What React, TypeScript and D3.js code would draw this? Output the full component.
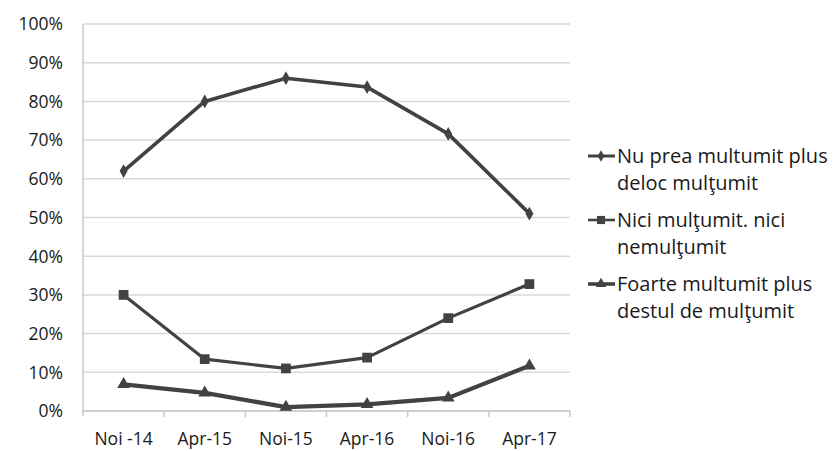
import { scaleBand, scaleLinear, line, symbol, symbolDiamond, symbolSquare, symbolTriangle } from "d3";

const categories = ["Noi -14", "Apr-15", "Noi-15", "Apr-16", "Noi-16", "Apr-17"];
const nemultumit = [62, 80, 86, 83.7, 71.6, 51];
const neutru = [30, 13.4, 11, 13.8, 24, 32.8];
const multumit = [6.9, 4.7, 1, 1.7, 3.4, 11.7];
const yTicks = [0, 10, 20, 30, 40, 50, 60, 70, 80, 90, 100];

const legendLabels = [
  ["Nu prea multumit plus", "deloc mulţumit"],
  ["Nici mulţumit. nici", "nemulţumit"],
  ["Foarte multumit plus", "destul de mulţumit"]
];

const W = 835;
const H = 451;
const FONT = "'Open Sans', Lato, sans-serif";
const INK = "#424242";
const TEXT = "#1a1a1a";

const series = [
  { values: nemultumit, shape: symbolDiamond, size: 55, width: 3.6 },
  { values: neutru, shape: symbolSquare, size: 95, width: 3.2 },
  { values: multumit, shape: symbolTriangle, size: 70, width: 4.2 }
];

export default function App() {
  const x = scaleBand().domain(categories).range([83, 570]);
  const y = scaleLinear().domain([0, 100]).range([411, 24]);
  const cx = (c: string) => (x(c) ?? 0) + x.bandwidth() / 2;

  const path = line<number>()
    .x((_, i) => cx(categories[i]))
    .y((d) => y(d));

  return (
    <svg
      width={W}
      height={H}
      style={{ position: "fixed", left: 0, top: 0, background: "#fff" }}
      fontFamily={FONT}
    >
      {/* gridlines */}
      {yTicks.map((t) => (
        <line key={t} x1={83} x2={570} y1={y(t)} y2={y(t)} stroke="#d9d9d9" strokeWidth={1.5} />
      ))}
      {/* axes */}
      <line x1={83} x2={83} y1={y(100)} y2={y(0) + 5} stroke="#c8c8c8" strokeWidth={1.5} />
      <line x1={83} x2={570} y1={y(0)} y2={y(0)} stroke="#c8c8c8" strokeWidth={1.5} />
      {categories.map((c) => (
        <line key={c} x1={(x(c) ?? 0) + x.bandwidth()} x2={(x(c) ?? 0) + x.bandwidth()} y1={y(0)} y2={y(0) + 6} stroke="#c8c8c8" strokeWidth={1.5} />
      ))}
      {yTicks.map((t) => (
        <text key={t} x={63} y={y(t)} dy="0.36em" textAnchor="end" fontSize={17.5} fill={TEXT}>
          {t}%
        </text>
      ))}
      {categories.map((c) => (
        <text key={c} x={cx(c)} y={445} textAnchor="middle" fontSize={17.5} fill={TEXT}>
          {c}
        </text>
      ))}
      {/* series */}
      {series.map((s, i) => (
        <g key={i}>
          <path d={path(s.values) ?? ""} fill="none" stroke={INK} strokeWidth={s.width} strokeLinejoin="round" />
          {s.values.map((v, j) => (
            <path
              key={j}
              d={symbol().type(s.shape).size(s.size)() ?? ""}
              transform={`translate(${cx(categories[j])},${y(v)})`}
              fill={INK}
            />
          ))}
        </g>
      ))}
      {/* legend */}
      {legendLabels.map((lines, i) => {
        const ly = 156 + i * 64;
        const s = series[i];
        return (
          <g key={i}>
            <line x1={588} x2={615} y1={ly} y2={ly} stroke={INK} strokeWidth={s.width - 0.6} />
            <path d={symbol().type(s.shape).size(s.size * 0.7)() ?? ""} transform={`translate(601,${ly})`} fill={INK} />
            {lines.map((t, k) => (
              <text key={k} x={617} y={ly + k * 27} dy="0.36em" fontSize={20} fill={TEXT}>
                {t}
              </text>
            ))}
          </g>
        );
      })}
    </svg>
  );
}
